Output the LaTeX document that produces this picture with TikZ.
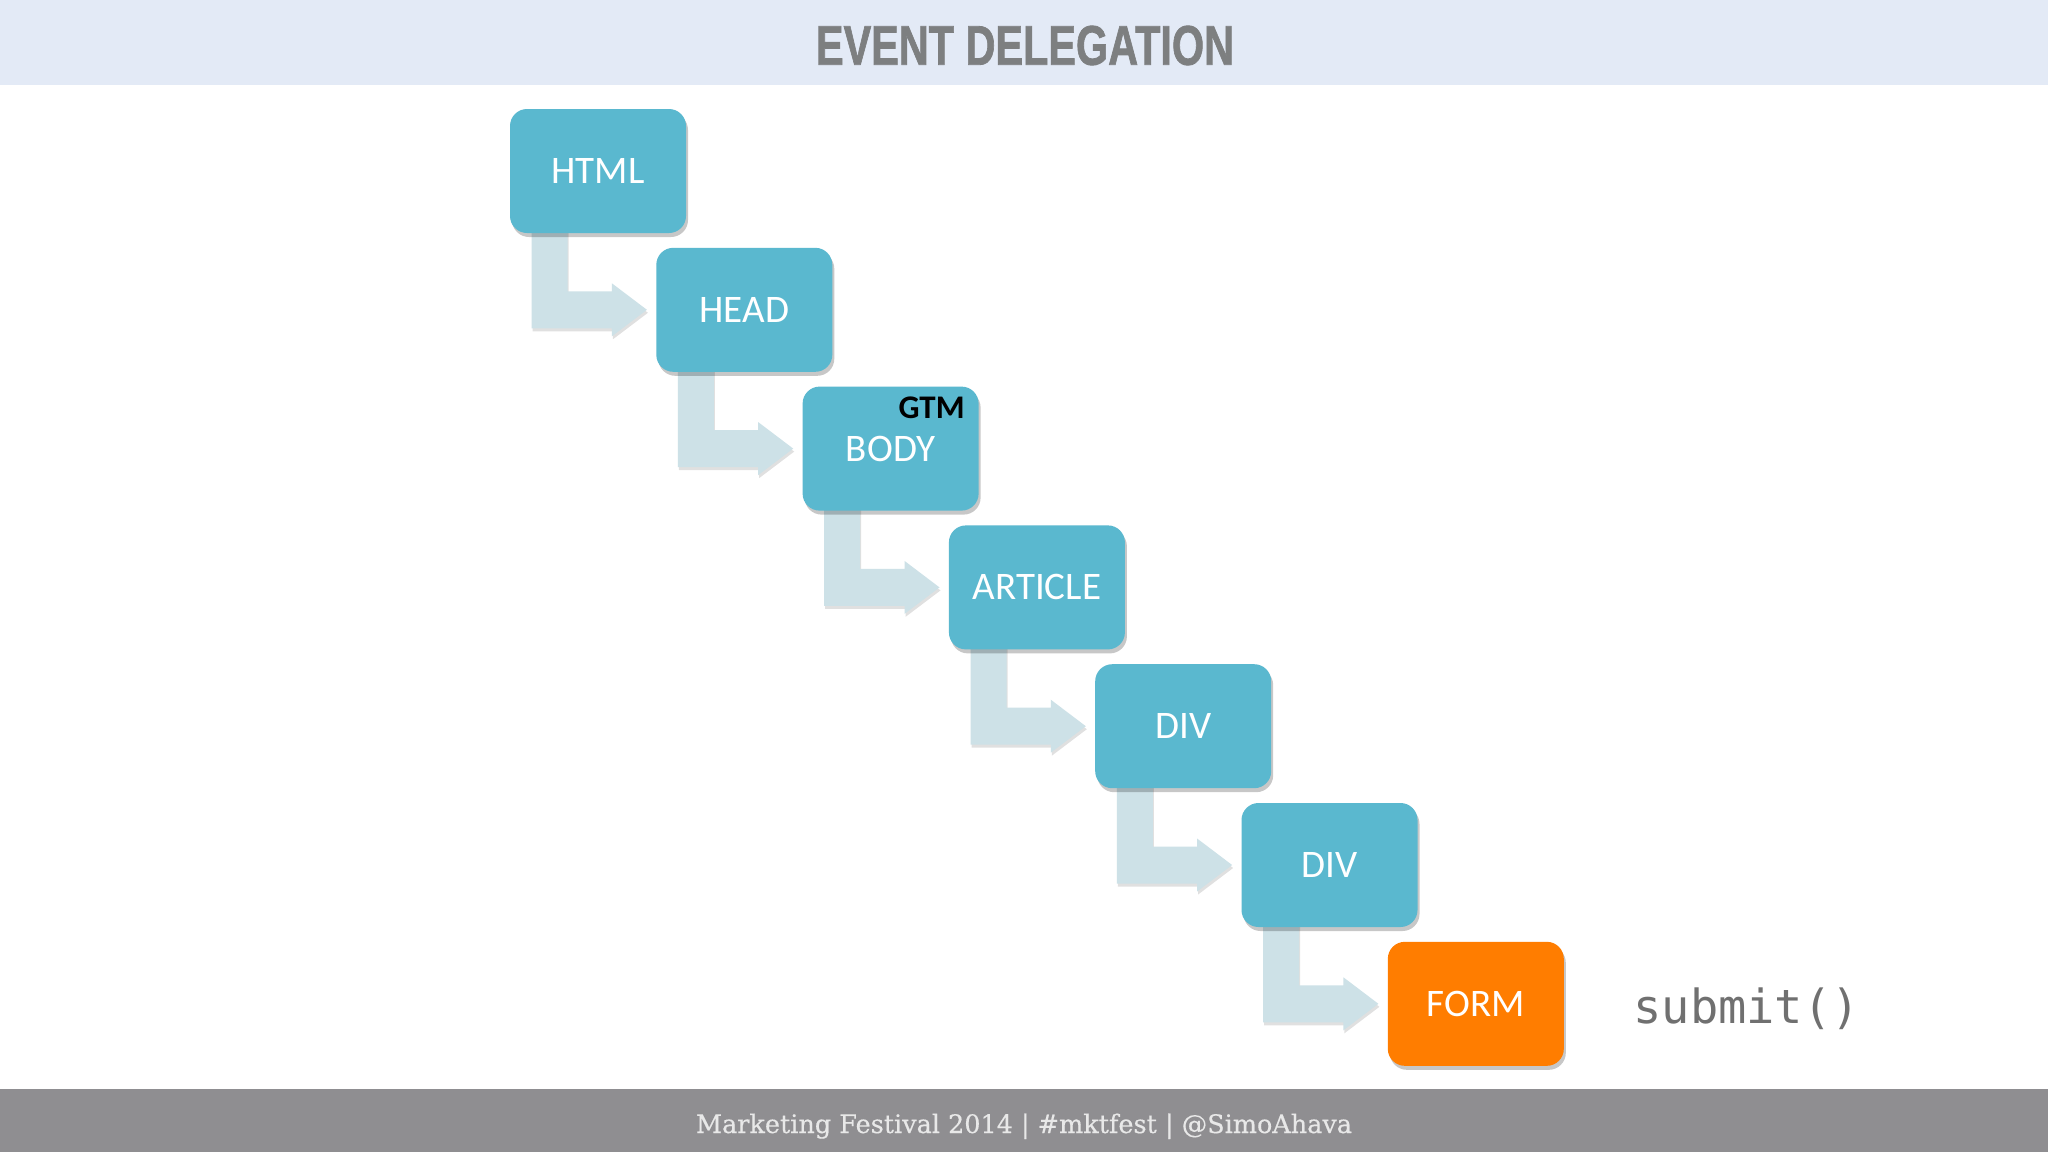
\documentclass[tikz,border=0pt]{standalone}
\usepackage{fontspec}
\setmainfont{Carlito}
\newfontfamily\titlefont[FakeBold=1.5]{Liberation Sans}
\newfontfamily\footfont[FakeBold=0.4]{DejaVu Serif}
\newfontfamily\codefont{DejaVu Sans Mono}
\usetikzlibrary{calc,shadows}
\pgfdeclarelayer{back}
\pgfdeclarelayer{arrowlayer}
\pgfsetlayers{back,arrowlayer,main}
\definecolor{boxblue}{HTML}{5AB8CF}
\definecolor{arrowc}{HTML}{CDE1E7}
\definecolor{formc}{HTML}{FF7D00}
\definecolor{titleband}{HTML}{E3EAF6}
\definecolor{titletext}{HTML}{7D7F80}
\definecolor{footband}{HTML}{8F8E91}
\definecolor{foottext}{HTML}{E8E8E8}
\definecolor{codec}{HTML}{707070}
\newcommand\elbowarrow[2]{%
  \fill[elbowstyle] let \p1=(#1.south west), \p2=(#2.west) in
    (\x1+11pt,\y1+6pt) -- (\x1+11pt,\y2-9.25pt) -- (\x2-22pt,\y2-9.25pt)
    -- (\x2-22pt,\y2-13.25pt) -- (\x2-4.5pt,\y2) -- (\x2-22pt,\y2+13.25pt)
    -- (\x2-22pt,\y2+9.25pt) -- (\x1+29pt,\y2+9.25pt) -- (\x1+29pt,\y1+6pt) -- cycle;}
\begin{document}
\begin{tikzpicture}[x=0.5pt,y=-0.5pt,
  elem/.style={rounded corners=8.5pt, minimum width=88pt, minimum height=62pt,
    inner sep=0pt, fill=boxblue, text=white,
    font=\fontsize{19.5pt}{23pt}\selectfont,
    drop shadow={shadow xshift=1pt, shadow yshift=-2pt, opacity=0.22, fill=black}},
  formbox/.style={elem, fill=formc},
  elbowstyle/.style={fill=arrowc,
    drop shadow={shadow xshift=0.5pt, shadow yshift=-1.5pt, opacity=0.12, fill=black}},
  gtmlabel/.style={inner sep=0pt, font=\fontsize{16.5pt}{19pt}\selectfont\bfseries, text=black},
  codelabel/.style={inner sep=0pt, font=\codefont\fontsize{23.5pt}{28pt}\selectfont, text=codec}]
\useasboundingbox (0,0) rectangle (2048,1152);
\begin{pgfonlayer}{back}
  \fill[white] (0,0) rectangle (2048,1152);
  \fill[titleband] (0,0) rectangle (2048,85);
  \fill[footband] (0,1089) rectangle (2048,1152);
\end{pgfonlayer}
\node[inner sep=0pt, text=titletext] (title) at (1025,45.5)
  {\resizebox{209pt}{19.5pt}{\titlefont\bfseries EVENT DELEGATION}};
\node[inner sep=0pt, text=foottext, anchor=base] (footer) at (1024,1133)
  {\resizebox{328pt}{!}{\footfont Marketing Festival 2014 | \#mktfest | @SimoAhava}};
\node[elem] (html) at (598,171) {HTML};
\node[elem] (head) at (744.3,309.8) {HEAD};
\node[elem] (body) at (890.6,448.6) {BODY};
\node[elem] (article) at (1036.9,587.4) {ARTICLE};
\node[elem] (div1) at (1183.2,726.2) {DIV};
\node[elem] (div2) at (1329.5,865) {DIV};
\node[formbox] (form) at (1475.8,1003.8) {FORM};
\node[gtmlabel, anchor=north east] (gtm) at ($(body.north east)+(-14,10)$) {GTM};
\node[codelabel, anchor=base west] (submit) at (1633,1023.5) {submit()};
\begin{pgfonlayer}{arrowlayer}
  \elbowarrow{html}{head}
  \elbowarrow{head}{body}
  \elbowarrow{body}{article}
  \elbowarrow{article}{div1}
  \elbowarrow{div1}{div2}
  \elbowarrow{div2}{form}
\end{pgfonlayer}
\end{tikzpicture}
\end{document}
